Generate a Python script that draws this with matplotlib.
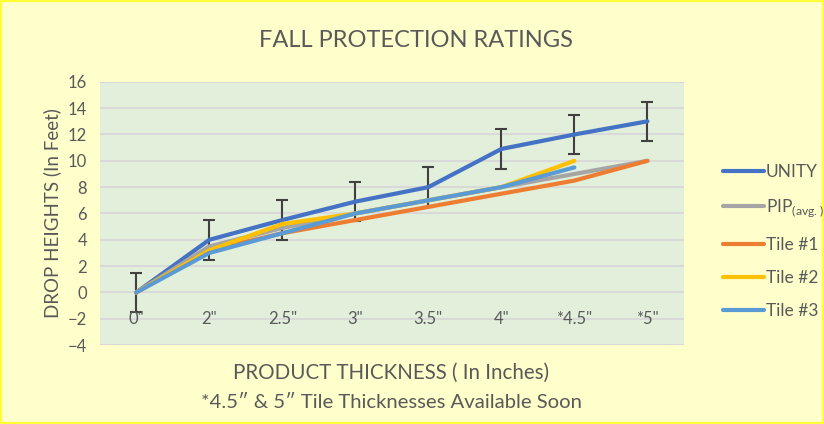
import numpy as np
import matplotlib.pyplot as plt
from matplotlib.patches import Rectangle

plt.rcParams['font.family'] = ['Lato', 'DejaVu Sans']

# 数据
categories = ['0"', '2"', '2.5"', '3"', '3.5"', '4"', '*4.5"', '*5"']
unity = [0, 4, 5.5, 6.9, 8, 10.9, 12, 13]
unity_err = [1.5, 1.5, 1.5, 1.5, 1.5, 1.5, 1.5, 1.5]
pip_avg = [0, 3.5, 4.9, 6, 7, 8, 9, 10]
tile1 = [0, 3.2, 4.5, 5.5, 6.5, 7.5, 8.5, 10]
tile2 = [0, 3.2, 5.2, 6, 7, 8, 10, np.nan]
tile3 = [0, 3, 4.5, 6, 7, 8, 9.5, np.nan]

series_names = ['UNITY', r'PIP$_{\mathregular{(avg.)}}$', 'Tile #1', 'Tile #2', 'Tile #3']
series_values = [unity, pip_avg, tile1, tile2, tile3]
series_colors = ['#4472C4', '#A5A5A5', '#ED7D31', '#FFC000', '#5B9BD5']

text_color = '#595959'

fig = plt.figure(figsize=(8.24, 4.24), dpi=100)
fig.patch.set_facecolor('#FFFFCC')
fig.patches.append(Rectangle((0, 0), 1, 1, transform=fig.transFigure,
                             fill=False, edgecolor='#FFFF33', linewidth=3))

ax = fig.add_axes([0.121, 0.186, 0.709, 0.621])
ax.set_facecolor('#E2EFDA')

x = np.arange(len(categories))

# 误差线
ax.errorbar(x, unity, yerr=unity_err, fmt='none', ecolor='#404040',
            elinewidth=1.5, capsize=4, capthick=1.5, zorder=2)

for name, vals, col in zip(series_names, series_values, series_colors):
    ax.plot(x, vals, color=col, linewidth=3, label=name,
            solid_capstyle='round', solid_joinstyle='round', zorder=3)

ax.set_xlim(-0.5, len(categories) - 0.5)
ax.set_ylim(-4, 16)
ax.set_yticks(np.arange(-4, 17, 2))
ax.yaxis.grid(True, color='#D9D9D9', linewidth=1.5)
ax.set_axisbelow(True)
for s in ax.spines.values():
    s.set_visible(False)
ax.tick_params(axis='y', length=0, pad=9, labelsize=12, labelcolor=text_color)

# 类别标签在 y=0 下方
ax.set_xticks(x)
ax.set_xticklabels([])
ax.tick_params(axis='x', length=0)
for xi, lab in zip(x, categories):
    ax.text(xi, -2, lab, ha='center', va='center', fontsize=12, color=text_color)

ax.set_ylabel('DROP HEIGHTS (In Feet)', fontsize=13.5, color=text_color, labelpad=5)

fig.text(0.505, 0.905, 'FALL PROTECTION RATINGS', ha='center', va='center',
         fontsize=17, color=text_color)
fig.text(0.475, 0.12, 'PRODUCT THICKNESS ( In Inches)', ha='center', va='center',
         fontsize=14.8, color=text_color)
fig.text(0.475, 0.05, '*4.5\u2033 & 5\u2033 Tile Thicknesses Available Soon', ha='center',
         va='center', fontsize=14.6, color=text_color)

leg = fig.legend(loc='center left', bbox_to_anchor=(0.858, 0.43), frameon=False,
                 fontsize=12.5, handlelength=2.4, handletextpad=0.1, labelspacing=1.0,
                 labelcolor=text_color)
for line in leg.get_lines():
    line.set_linewidth(3)

fig.savefig('out.png', dpi=100, facecolor=fig.get_facecolor())
